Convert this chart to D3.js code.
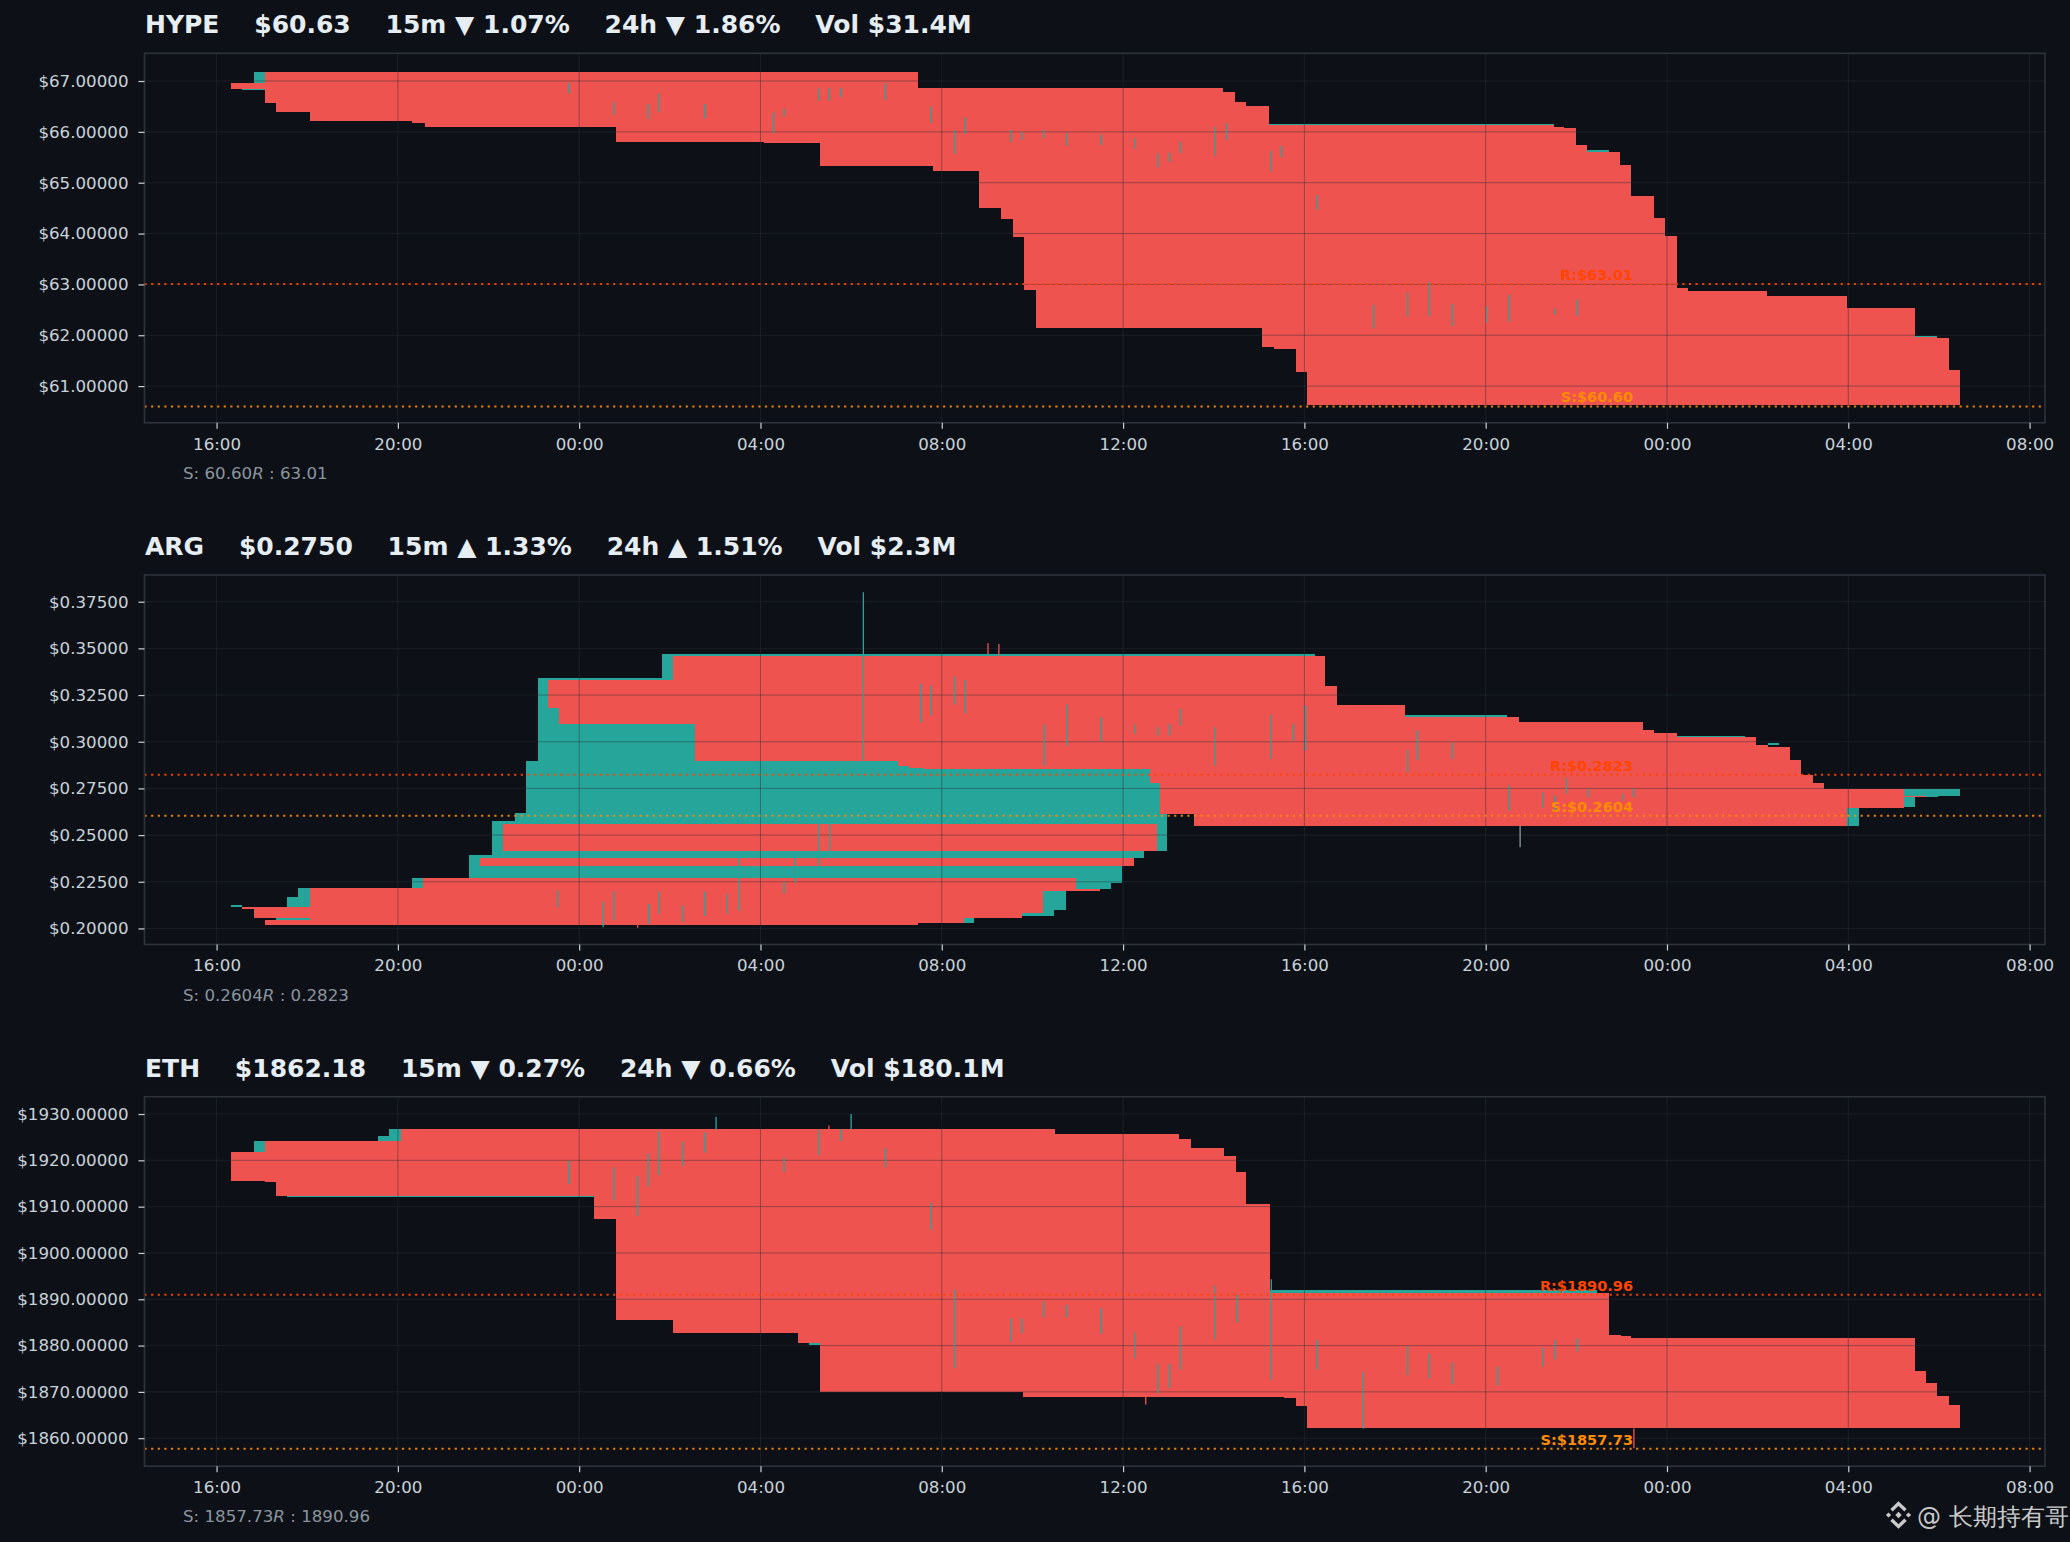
<!DOCTYPE html>
<html>
<head>
<meta charset="utf-8">
<script src="https://cdn.jsdelivr.net/npm/d3@7"></script>
<style>
html, body { margin: 0; padding: 0; background: #0d1117; }
svg { display: block; }
text { font-family: "DejaVu Sans", sans-serif; }
</style>
</head>
<body>
<div id="chart"></div>
<script>
// hours counted from midnight of the first day
var hypeTitle = "HYPE    $60.63    15m \u25BC 1.07%    24h \u25BC 1.86%    Vol $31.4M";
var hypeYTicks = [61, 62, 63, 64, 65, 66, 67];
var hypeYDomain = [60.278, 67.545];
var hypeTop = [[17.07, 67.177], [31.48, 66.86], [38.20, 66.78], [38.48, 66.58], [38.71, 66.50], [39.23, 66.13],
	[45.50, 66.10], [45.73, 66.08], [45.99, 65.74], [46.23, 65.60], [46.97, 65.35], [47.20, 64.74], [47.71, 64.30],
	[47.96, 63.95], [48.22, 62.92], [48.47, 62.87], [50.21, 62.77], [51.98, 62.53], [53.48, 61.96], [53.96, 61.95],
	[54.22, 61.31]];
var hypeBot = [[17.07, 66.57], [17.31, 66.40], [18.06, 66.22], [20.31, 66.18], [20.59, 66.095], [24.81, 65.81],
	[28.07, 65.78], [29.31, 65.33], [31.80, 65.24], [32.82, 64.51], [33.30, 64.29], [33.57, 63.94], [33.81, 62.89],
	[34.08, 62.15], [39.06, 61.77], [39.33, 61.73], [39.81, 61.28], [40.06, 60.63]];
var hypeEnd = 54.47;
var hypeBlocks = [
	[16.83, 17.07, 66.955, 67.177, "up"], [16.57, 17.07, 66.82, 66.84, "up"], [39.23, 45.50, 66.13, 66.15, "up"],
	[46.23, 46.72, 65.60, 65.64, "up"], [53.48, 53.96, 61.96, 61.98, "up"],
	[16.32, 17.07, 66.84, 66.955, "down"]];
var hypeWicks = [
	[23.78, 66.758, 66.955], [24.77, 66.331, 66.593], [25.52, 66.252, 66.548], [25.75, 66.384, 66.758],
	[26.78, 66.266, 66.548], [28.29, 65.971, 66.384], [28.52, 66.298, 66.456], [29.28, 66.613, 66.856],
	[29.51, 66.613, 66.856], [29.78, 66.691, 66.856], [30.76, 66.626, 66.955], [31.76, 66.167, 66.495],
	[32.28, 65.564, 66.036], [32.51, 65.957, 66.285], [33.52, 65.806, 66.036], [33.77, 65.839, 66.003],
	[34.25, 65.872, 66.036], [34.75, 65.721, 65.983], [35.51, 65.741, 65.944], [36.27, 65.669, 65.879],
	[36.77, 65.302, 65.577], [37.03, 65.413, 65.590], [37.26, 65.577, 65.806], [38.02, 65.524, 66.101],
	[38.28, 65.839, 66.167], [39.27, 65.216, 65.629], [39.50, 65.499, 65.728], [40.27, 64.462, 64.757],
	[41.53, 62.135, 62.593], [42.28, 62.363, 62.843], [42.76, 62.377, 63.052], [43.26, 62.180, 62.613],
	[44.02, 62.245, 62.573], [44.51, 62.265, 62.790], [45.52, 62.396, 62.528], [46.03, 62.377, 62.705]];
var hypeSR = [60.60, 63.01];

var argTitle = "ARG    $0.2750    15m \u25B2 1.33%    24h \u25B2 1.51%    Vol $2.3M";
var argYTicks = [0.200, 0.225, 0.250, 0.275, 0.300, 0.325, 0.350, 0.375];
var argYDomain = [0.1914, 0.3893];
var argBlocks = [
	[16.32, 16.57, 0.2114, 0.2123, "up"], [17.31, 18.07, 0.2044, 0.2058, "up"], [17.55, 18.07, 0.2116, 0.2166, "up"],
	[17.79, 18.07, 0.2166, 0.2219, "up"], [20.31, 20.56, 0.2219, 0.2269, "up"], [21.58, 35.98, 0.2245, 0.2391, "up"],
	[22.07, 36.47, 0.2378, 0.2417, "up"], [22.07, 36.98, 0.2417, 0.2578, "up"], [22.58, 36.98, 0.2560, 0.2619, "up"],
	[22.83, 36.82, 0.2614, 0.2899, "up"], [23.09, 26.56, 0.2899, 0.3343, "up"], [25.83, 40.23, 0.3343, 0.3470, "up"],
	[32.48, 32.71, 0.2030, 0.2055, "up"], [33.76, 34.48, 0.2066, 0.2198, "up"], [34.48, 34.73, 0.2100, 0.2198, "up"],
	[34.97, 35.73, 0.2212, 0.2245, "up"], [42.23, 44.48, 0.3135, 0.3142, "up"], [48.22, 49.72, 0.3024, 0.3031, "up"],
	[50.22, 50.47, 0.2985, 0.2992, "up"], [51.98, 52.23, 0.2547, 0.2646, "up"], [53.22, 54.47, 0.2712, 0.2748, "up"],
	[53.22, 53.48, 0.2653, 0.2703, "up"], [53.71, 53.98, 0.2703, 0.2712, "up"],
	[16.57, 18.07, 0.2106, 0.2116, "down"], [16.83, 18.07, 0.2058, 0.2108, "down"], [17.07, 31.48, 0.2016, 0.2044, "down"],
	[18.07, 32.48, 0.2030, 0.2219, "down"], [18.07, 33.76, 0.2055, 0.2219, "down"], [18.07, 34.23, 0.2082, 0.2198, "down"],
	[18.07, 35.48, 0.2198, 0.2212, "down"], [20.56, 34.97, 0.2212, 0.2269, "down"], [21.82, 36.23, 0.2337, 0.2378, "down"],
	[22.32, 36.75, 0.2417, 0.2560, "down"],
	[26.06, 40.46, 0.3333, 0.3461, "down"], [23.31, 40.46, 0.3301, 0.3333, "down"], [23.31, 40.72, 0.3199, 0.3301, "down"],
	[23.31, 42.23, 0.3183, 0.3199, "down"], [23.56, 42.23, 0.3135, 0.3183, "down"], [23.56, 44.73, 0.3108, 0.3135, "down"],
	[23.56, 47.48, 0.3096, 0.3108, "down"], [26.56, 47.48, 0.3064, 0.3096, "down"], [26.56, 47.71, 0.3049, 0.3064, "down"],
	[26.56, 48.22, 0.3024, 0.3049, "down"], [26.56, 49.97, 0.2985, 0.3024, "down"], [26.56, 50.22, 0.2970, 0.2985, "down"],
	[26.56, 50.71, 0.2904, 0.2970, "down"], [26.56, 50.96, 0.2899, 0.2904, "down"], [31.04, 50.96, 0.2872, 0.2899, "down"],
	[31.28, 50.96, 0.2860, 0.2872, "down"], [31.58, 50.96, 0.2855, 0.2860, "down"], [36.59, 50.96, 0.2824, 0.2855, "down"],
	[36.59, 51.22, 0.2780, 0.2824, "down"], [36.82, 51.47, 0.2748, 0.2780, "down"], [36.82, 53.22, 0.2646, 0.2748, "down"],
	[36.82, 51.98, 0.2614, 0.2646, "down"], [37.56, 51.98, 0.2547, 0.2614, "down"], [53.22, 53.71, 0.2703, 0.2712, "down"]];
var argWicks = [
	[30.27, 0.2899, 0.3800], [31.54, 0.3104, 0.3310], [31.76, 0.3140, 0.3301], [32.28, 0.3199, 0.3349],
	[32.51, 0.3153, 0.3331], [33.02, 0.3470, 0.3528, "down"], [33.26, 0.3461, 0.3524, "down"],
	[23.53, 0.2114, 0.2203], [24.53, 0.2007, 0.2141], [24.77, 0.2043, 0.2200], [25.29, 0.2004, 0.2132, "down"],
	[25.54, 0.2025, 0.2132], [25.76, 0.2079, 0.2198], [26.28, 0.2034, 0.2123], [26.78, 0.2066, 0.2198],
	[27.27, 0.2079, 0.2186], [27.53, 0.2093, 0.2382], [28.52, 0.2186, 0.2252], [28.77, 0.2245, 0.2382],
	[29.28, 0.2337, 0.2560], [29.53, 0.2417, 0.2605],
	[34.26, 0.2872, 0.3092], [34.76, 0.2979, 0.3199], [35.51, 0.3002, 0.3131], [36.27, 0.3042, 0.3092],
	[36.77, 0.3033, 0.3077], [37.03, 0.3033, 0.3095], [37.26, 0.3086, 0.3176], [38.02, 0.2872, 0.3077],
	[39.27, 0.2908, 0.3145], [39.76, 0.3006, 0.3095], [40.03, 0.2953, 0.3194], [42.28, 0.2837, 0.2956],
	[42.50, 0.2899, 0.3060], [43.26, 0.2908, 0.2997], [44.51, 0.2632, 0.2765], [44.76, 0.2435, 0.2551, "flat"],
	[45.27, 0.2646, 0.2729], [45.52, 0.2632, 0.2712], [45.78, 0.2721, 0.2806], [46.26, 0.2703, 0.2748],
	[47.02, 0.2685, 0.2721], [47.27, 0.2703, 0.2748]];
var argSR = [0.2604, 0.2823];

var ethTitle = "ETH    $1862.18    15m \u25BC 0.27%    24h \u25BC 0.66%    Vol $180.1M";
var ethYTicks = [1860, 1870, 1880, 1890, 1900, 1910, 1920, 1930];
var ethYDomain = [1853.95, 1933.74];
var ethTop = [[16.32, 1921.7], [17.07, 1924.15], [20.06, 1926.75], [34.49, 1925.67], [37.23, 1924.6], [37.49, 1922.65],
	[38.22, 1920.9], [38.50, 1917.5], [38.71, 1910.6], [39.24, 1891.3], [46.72, 1882.25], [46.98, 1882.0],
	[47.20, 1881.6], [53.48, 1874.5], [53.71, 1872.0], [53.96, 1869.1], [54.22, 1867.1]];
var ethBot = [[16.32, 1915.6], [17.07, 1915.4], [17.31, 1912.4], [24.33, 1907.3], [24.81, 1885.6], [26.08, 1882.7],
	[28.83, 1880.5], [29.31, 1870.0], [33.80, 1868.9], [39.56, 1868.7], [39.81, 1867.0], [40.06, 1862.1]];
var ethEnd = 54.47;
var ethBlocks = [
	[16.83, 17.07, 1921.7, 1924.15, "up"], [17.55, 24.33, 1912.1, 1912.4, "up"], [19.56, 20.06, 1924.15, 1925.2, "up"],
	[19.81, 20.06, 1925.2, 1926.75, "up"], [29.07, 29.31, 1880.2, 1880.5, "up"], [39.24, 46.46, 1891.3, 1892.0, "up"]];
var ethWicks = [
	[23.78, 1914.9, 1919.9], [24.77, 1911.4, 1918.5], [25.29, 1908.0, 1916.6], [25.52, 1914.4, 1921.5],
	[25.75, 1916.8, 1926.2], [26.28, 1918.8, 1924.0], [26.78, 1921.7, 1926.0], [27.02, 1926.7, 1929.4],
	[28.52, 1917.5, 1920.6], [29.28, 1921.1, 1926.5], [29.51, 1926.7, 1927.5, "down"], [29.78, 1924.2, 1926.7],
	[30.00, 1926.7, 1930.0], [30.76, 1918.5, 1922.6], [31.76, 1905.0, 1910.8], [32.28, 1875.1, 1892.1],
	[33.52, 1880.8, 1885.9], [33.77, 1882.6, 1885.9], [34.25, 1886.1, 1889.5], [34.75, 1886.1, 1888.8],
	[35.51, 1882.5, 1888.0], [36.27, 1877.2, 1882.8], [36.50, 1867.3, 1868.9, "down"], [36.77, 1869.7, 1876.1],
	[37.03, 1870.9, 1876.0], [37.26, 1874.8, 1884.2], [38.02, 1881.3, 1893.05], [38.51, 1884.9, 1890.9],
	[39.27, 1872.5, 1894.3], [40.27, 1874.8, 1881.2], [41.30, 1862.1, 1874.3], [42.28, 1873.6, 1879.9],
	[42.76, 1872.9, 1878.3], [43.26, 1871.6, 1876.3], [44.27, 1871.4, 1875.4], [45.27, 1875.4, 1879.6],
	[45.52, 1877.0, 1881.2], [46.03, 1878.7, 1881.5], [47.27, 1857.8, 1862.1, "down"]];
var ethSR = [1857.73, 1890.96];

var xDomainHours = [14.41, 56.34];
var labelHour = 47.25;

var BASE = new Date(2025, 0, 14);
function at(h) {
	return new Date(BASE.getTime() + h * 3600000);
}

var COLORS = { up: "#26a69a", down: "#ef5350", flat: "#8b949e" };

function stepValue(steps, t) {
	var v = null;
	for (var i = 0; i < steps.length; i++) {
		if (steps[i][0] <= t + 1e-9) v = steps[i][1];
	}
	return v;
}

// turn the top / bottom staircases into columns
function profileColumns(top, bot, end) {
	if (!top) return [];
	var ts = top.map(function(d) { return d[0]; }).concat(bot.map(function(d) { return d[0]; }));
	ts = Array.from(new Set(ts)).sort(function(a, b) { return a - b; });
	ts.push(end);
	var cols = [];
	for (var i = 0; i < ts.length - 1; i++) {
		var hi = stepValue(top, ts[i]);
		var lo = stepValue(bot, ts[i]);
		if (hi != null && lo != null && hi > lo) cols.push([ts[i], ts[i + 1], lo, hi]);
	}
	return cols;
}

function drawPanel(svg, p, idx, top) {
	var left = 144.5, right = 2045, h = 369.5;

	var x = d3.scaleTime()
		.domain([at(xDomainHours[0]), at(xDomainHours[1])])
		.range([left, right]);
	var y = d3.scaleLinear()
		.domain(p.yDomain)
		.range([top + h, top]);

	var clipId = "clip" + idx;
	svg.append("clipPath").attr("id", clipId)
		.append("rect")
		.attr("x", left).attr("y", top)
		.attr("width", right - left).attr("height", h);

	svg.append("text")
		.attr("x", 145)
		.attr("y", top - 20)
		.attr("fill", "#e6edf3")
		.attr("font-size", "25px")
		.attr("font-weight", "bold")
		.style("white-space", "pre")
		.text(p.title);

	var plot = svg.append("g").attr("clip-path", "url(#" + clipId + ")");

	function rects(data, cls) {
		plot.append("g")
			.attr("class", cls)
			.attr("shape-rendering", "crispEdges")
			.selectAll("rect")
			.data(data)
			.enter()
			.append("rect")
			.attr("x", function(d) { return x(at(d[0])); })
			.attr("y", function(d) { return y(d[3]); })
			.attr("width", function(d) { return x(at(d[1])) - x(at(d[0])); })
			.attr("height", function(d) { return y(d[2]) - y(d[3]); })
			.attr("fill", function(d) { return COLORS[d[4] || "down"]; });
	}

	rects(p.blocks.filter(function(d) { return d[4] === "up"; }), "bull");
	rects(profileColumns(p.topSteps, p.botSteps, p.end), "profile");
	rects(p.blocks.filter(function(d) { return d[4] === "down"; }), "bear");

	var xTicks = x.ticks(d3.timeHour.every(4));

	var grid = plot.append("g").attr("class", "grid")
		.attr("stroke", "#2a2f38")
		.attr("stroke-opacity", 0.45)
		.attr("stroke-width", 1);
	grid.selectAll("line.v")
		.data(xTicks)
		.enter()
		.append("line")
		.attr("x1", function(d) { return x(d); })
		.attr("x2", function(d) { return x(d); })
		.attr("y1", top)
		.attr("y2", top + h);
	grid.selectAll("line.h")
		.data(p.yTicks)
		.enter()
		.append("line")
		.attr("x1", left)
		.attr("x2", right)
		.attr("y1", function(d) { return y(d); })
		.attr("y2", function(d) { return y(d); });

	plot.append("g")
		.selectAll("line")
		.data(p.wicks)
		.enter()
		.append("line")
		.attr("x1", function(d) { return x(at(d[0])); })
		.attr("x2", function(d) { return x(at(d[0])); })
		.attr("y1", function(d) { return y(d[1]); })
		.attr("y2", function(d) { return y(d[2]); })
		.attr("stroke", function(d) { return COLORS[d[3] || "up"]; })
		.attr("stroke-width", 1.3);

	var sr = [
		{ v: p.sr[0], name: "S", color: "#ff8c00" },
		{ v: p.sr[1], name: "R", color: "#ff4500" }
	];
	plot.append("g")
		.selectAll("line")
		.data(sr)
		.enter()
		.append("line")
		.attr("x1", left)
		.attr("x2", right)
		.attr("y1", function(d) { return y(d.v); })
		.attr("y2", function(d) { return y(d.v); })
		.attr("stroke", function(d) { return d.color; })
		.attr("stroke-width", 2)
		.attr("stroke-dasharray", "2.2,4.4")
		.attr("opacity", 0.9);
	plot.append("g")
		.selectAll("text")
		.data(sr)
		.enter()
		.append("text")
		.attr("x", x(at(labelHour)))
		.attr("y", function(d) { return y(d.v) - 4; })
		.attr("text-anchor", "end")
		.attr("fill", function(d) { return d.color; })
		.attr("font-family", "'DejaVu Serif', serif")
		.attr("font-weight", "bold")
		.attr("font-size", "14.5px")
		.text(function(d) { return d.name + ":$" + d.v.toFixed(p.digits); });

	// frame
	svg.append("rect")
		.attr("x", left).attr("y", top)
		.attr("width", right - left).attr("height", h)
		.attr("fill", "none")
		.attr("stroke", "#2d333b")
		.attr("stroke-width", 1.6);

	var yAxis = svg.append("g")
		.attr("transform", "translate(" + left + ",0)")
		.call(d3.axisLeft(y)
			.tickValues(p.yTicks)
			.tickFormat(function(d) { return "$" + d.toFixed(5); })
			.tickSize(6)
			.tickPadding(10));
	var xAxis = svg.append("g")
		.attr("transform", "translate(0," + (top + h) + ")")
		.call(d3.axisBottom(x)
			.tickValues(xTicks)
			.tickFormat(d3.timeFormat("%H:%M"))
			.tickSize(6)
			.tickPadding(9));
	[yAxis, xAxis].forEach(function(a) {
		a.select(".domain").remove();
		a.selectAll(".tick line").attr("stroke", "#c9d1d9").attr("stroke-width", 1.2);
		a.selectAll(".tick text")
			.attr("fill", "#c9d1d9")
			.attr("font-family", "'DejaVu Sans', sans-serif")
			.attr("font-size", "16.67px");
	});

	var foot = svg.append("text")
		.attr("x", 183)
		.attr("y", top + 425.7)
		.attr("fill", "#8b949e")
		.attr("font-size", "16.67px")
		.style("white-space", "pre");
	foot.append("tspan").text("S: " + p.sr[0].toFixed(p.digits));
	foot.append("tspan").attr("font-style", "italic").text("R");
	foot.append("tspan").text(" : " + p.sr[1].toFixed(p.digits));
}

function chart(selector) {
	var width = 2070;
	var height = 1542;

	var svg = d3.select(selector)
		.append("svg")
		.attr("width", width)
		.attr("height", height);
	svg.append("rect")
		.attr("width", width)
		.attr("height", height)
		.attr("fill", "#0d1117");

	var panels = [
		{ title: hypeTitle, yDomain: hypeYDomain, yTicks: hypeYTicks, topSteps: hypeTop, botSteps: hypeBot,
			end: hypeEnd, blocks: hypeBlocks, wicks: hypeWicks, sr: hypeSR, digits: 2 },
		{ title: argTitle, yDomain: argYDomain, yTicks: argYTicks, topSteps: null, botSteps: null,
			end: 0, blocks: argBlocks, wicks: argWicks, sr: argSR, digits: 4 },
		{ title: ethTitle, yDomain: ethYDomain, yTicks: ethYTicks, topSteps: ethTop, botSteps: ethBot,
			end: ethEnd, blocks: ethBlocks, wicks: ethWicks, sr: ethSR, digits: 2 }
	];
	var tops = [53.3, 575, 1096.7];
	for (var i = 0; i < panels.length; i++) {
		drawPanel(svg, panels[i], i, tops[i]);
	}

	// watermark
	var wm = svg.append("g").attr("fill", "#c9c9c9").attr("stroke", "#c9c9c9");
	var cx = 1898.5, cy = 1515;
	var diamonds = [[0, 0, 3.2], [-10, 0, 2.6], [10, 0, 2.6]];
	wm.selectAll("path.d")
		.data(diamonds)
		.enter()
		.append("path")
		.attr("stroke", "none")
		.attr("d", function(d) {
			var px = cx + d[0], py = cy + d[1], r = d[2];
			return "M" + px + "," + (py - r) + "L" + (px + r) + "," + py + "L" + px + "," + (py + r) + "L" + (px - r) + "," + py + "Z";
		});
	wm.selectAll("path.c")
		.data([-1, 1])
		.enter()
		.append("path")
		.attr("fill", "none")
		.attr("stroke-width", 3.4)
		.attr("d", function(s) {
			return "M" + (cx - 7) + "," + (cy + s * 4.8) + "L" + cx + "," + (cy + s * 11.5) + "L" + (cx + 7) + "," + (cy + s * 4.8);
		});
	svg.append("text")
		.attr("x", 1917)
		.attr("y", 1525)
		.attr("fill", "#c9c9c9")
		.attr("font-family", "'Noto Sans CJK SC', sans-serif")
		.attr("font-size", "24px")
		.style("white-space", "pre")
		.text("@ 长期持有哥");
}

chart("#chart");
</script>
</body>
</html>
